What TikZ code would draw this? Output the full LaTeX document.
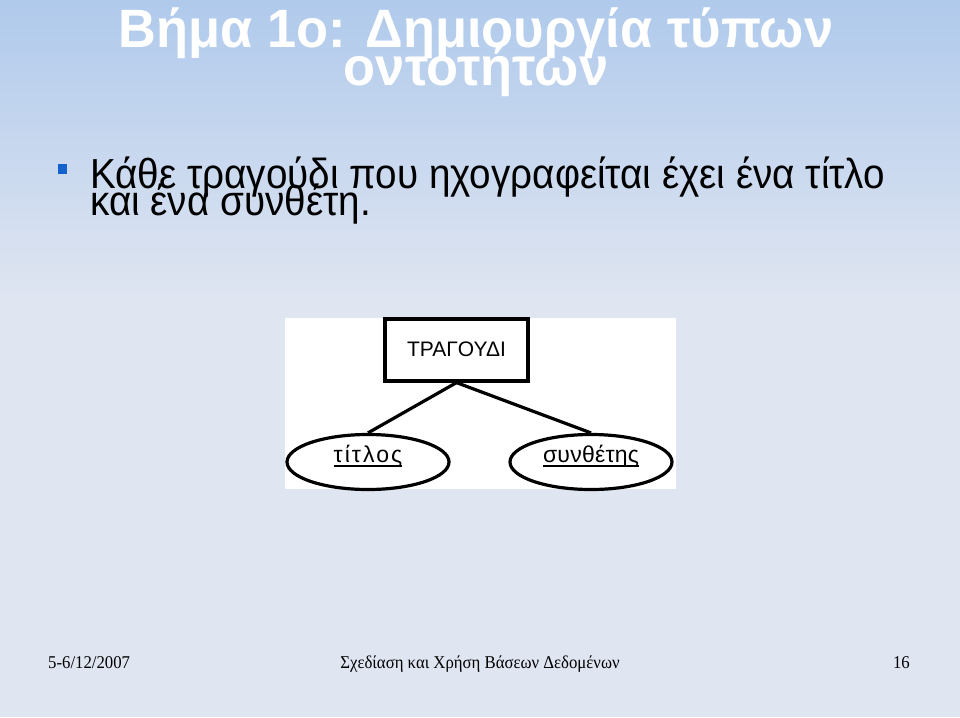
\documentclass[tikz,border=0pt]{standalone}
\usepackage{fontspec}
\setmainfont{Liberation Sans}
\newfontfamily\serifgr[FakeStretch=0.93]{Liberation Serif}
\newfontfamily\sansgr{Liberation Sans}
\newfontfamily\titlegr[FakeStretch=0.97]{Liberation Sans Bold}
\newfontfamily\bodygr[FakeStretch=0.92]{Liberation Sans}
\usetikzlibrary{shapes.geometric}
\definecolor{bgtop}{HTML}{B0CAEC}
\definecolor{bgbot}{HTML}{DFE5F1}
\definecolor{bulletblue}{HTML}{1462CE}
\newcommand{\myul}[1]{\setbox0\hbox{#1}\copy0\llap{\rule[-5pt]{\wd0}{2pt}}}
\newcommand{\tightlines}{\lineskiplimit=-60pt\relax\lineskip=0pt\relax}
\tikzset{
  entitybox/.style={draw=black, line width=3.2pt, fill=white, minimum width=143pt, minimum height=62pt, inner sep=0pt, font=\sansgr\fontsize{21}{21}\selectfont},
  attrell/.style={ellipse, draw=black, line width=3.2pt, fill=white, minimum width=162pt, minimum height=55pt, inner sep=0pt, text height=12pt, text depth=12pt, font=\sansgr\fontsize{23}{23}\selectfont},
  conn/.style={line width=3.2pt, black},
  titlefont/.style={font=\titlegr\fontsize{54}{38}\selectfont\tightlines, text=white, inner sep=0pt, align=center, anchor=base},
  bodyfont/.style={font=\bodygr\fontsize{42}{27}\selectfont\tightlines, text=black, inner sep=0pt, align=left, anchor=base west},
  footfont/.style={font=\serifgr\fontsize{18}{18}\selectfont, text=black, inner sep=0pt, anchor=base}
}
\begin{document}
\begin{tikzpicture}[x=1pt,y=-1pt]
\useasboundingbox (0,0) rectangle (960,717);
\fill[bgbot] (0,0) rectangle (960,717);
\shade[top color=bgtop, bottom color=bgbot] (0,0) rectangle (960,300);
% title
\node[titlefont] (title) at (476,85) {Βήμα 1ο: Δημιουργία τύπων\\οντοτήτων};
% bullet
\fill[bulletblue] (58,164) rectangle (67,174);
\node[bodyfont] (body) at (90,215) {Κάθε τραγούδι που ηχογραφείται έχει ένα τίτλο\\και ένα συνθέτη.};
% diagram
\fill[white] (285,318) rectangle (676,489);
\node[entitybox] (song) at (456.5,350) {\raisebox{2pt}{ΤΡΑΓΟΥΔΙ}};
\node[attrell] (titl) at (368,462) {\myul{\addfontfeature{LetterSpace=9}τίτλος}};
\node[attrell] (comp) at (591,462) {\myul{\addfontfeature{LetterSpace=1}συνθέτης}};
\draw[conn] (song.south) -- (titl.north);
\draw[conn] (song.south) -- (comp.north);
% footer
\node[footfont, anchor=base west] (f1) at (48,668) {5-6/12/2007};
\node[footfont] (f2) at (480,668) {Σχεδίαση και Χρήση Βάσεων Δεδομένων};
\node[footfont, anchor=base east] (f3) at (910,668) {16};
\end{tikzpicture}
\end{document}
